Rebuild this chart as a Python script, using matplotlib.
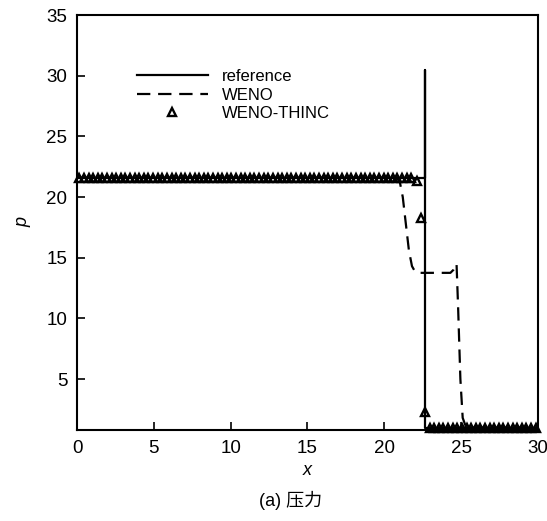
import numpy as np
import matplotlib.pyplot as plt

plt.rcParams['font.family'] = ['Liberation Sans', 'Noto Sans CJK SC']

# reference solution (exact shock)
ref_x = [0.0, 22.62, 22.62, 22.62, 30.0]
ref_p = [21.6, 21.6, 30.5, 1.0, 1.0]

# WENO curve
weno_x = [0.0, 20.8, 21.0, 21.2, 21.4, 21.6, 21.8, 22.0, 22.3, 24.3, 24.5, 24.7,
          24.8, 24.95, 25.1, 25.3, 25.6, 30.0]
weno_p = [21.6, 21.6, 21.3, 20.0, 17.8, 15.6, 14.3, 13.85, 13.75, 13.75, 14.0, 14.5,
          11.0, 5.0, 1.8, 1.1, 1.0, 1.0]

# WENO-THINC cell values
thinc_left_x = [0.15, 0.45, 0.75, 1.05, 1.35, 1.65, 1.95, 2.25, 2.55, 2.85,
                3.15, 3.45, 3.75, 4.05, 4.35, 4.65, 4.95, 5.25, 5.55, 5.85,
                6.15, 6.45, 6.75, 7.05, 7.35, 7.65, 7.95, 8.25, 8.55, 8.85,
                9.15, 9.45, 9.75, 10.05, 10.35, 10.65, 10.95, 11.25, 11.55, 11.85,
                12.15, 12.45, 12.75, 13.05, 13.35, 13.65, 13.95, 14.25, 14.55, 14.85,
                15.15, 15.45, 15.75, 16.05, 16.35, 16.65, 16.95, 17.25, 17.55, 17.85,
                18.15, 18.45, 18.75, 19.05, 19.35, 19.65, 19.95, 20.25, 20.55, 20.85,
                21.15, 21.45, 21.75]
thinc_left_p = 21.6
thinc_mid_x = [22.1, 22.4, 22.65]
thinc_mid_p = [21.3, 18.3, 2.3]
thinc_right_x = [22.95, 23.25, 23.55, 23.85, 24.15, 24.45, 24.75, 25.05, 25.35, 25.65,
                 25.95, 26.25, 26.55, 26.85, 27.15, 27.45, 27.75, 28.05, 28.35, 28.65,
                 28.95, 29.25, 29.55, 29.85]
thinc_right_p = 1.0

thinc_x = thinc_left_x + thinc_mid_x + thinc_right_x
thinc_p = [thinc_left_p] * len(thinc_left_x) + thinc_mid_p + [thinc_right_p] * len(thinc_right_x)

fig = plt.figure(figsize=(5.47, 5.21), dpi=100)
ax = fig.add_axes([0.1408, 0.1747, 0.8427, 0.7965])

ax.plot(ref_x, ref_p, color='black', linewidth=1.6, label='reference')
ax.plot(weno_x, weno_p, color='black', linewidth=1.6, linestyle=(0, (6, 3.5)), label='WENO')
ax.plot(thinc_x, thinc_p, linestyle='none', marker='^', markersize=6,
        markerfacecolor='none', markeredgecolor='black', markeredgewidth=1.7,
        label='WENO-THINC', clip_on=False)

ax.set_xlim(0, 30)
ax.set_ylim(0.8, 35)
ax.set_xticks([0, 5, 10, 15, 20, 25, 30])
ax.set_yticks([5, 10, 15, 20, 25, 30, 35])
ax.tick_params(direction='in', length=6, width=1.2, labelsize=13.5, pad=7,
               top=False, right=False)
for s in ax.spines.values():
    s.set_linewidth(1.5)

ax.set_xlabel('x', fontsize=13, style='italic', labelpad=4)
ax.set_ylabel('p', fontsize=13, style='italic', labelpad=11)

leg = ax.legend(loc='upper left', bbox_to_anchor=(0.13, 0.87), frameon=False, fontsize=12,
                handlelength=4.25, handletextpad=0.85, labelspacing=0.22, borderaxespad=0,
                borderpad=0)
for h in leg.legend_handles[2:]:
    h.set_markersize(5.5)

fig.text(0.532, 0.04, '(a) 压力', ha='center', va='center', fontsize=13)

fig.savefig('out.png', dpi=100)
